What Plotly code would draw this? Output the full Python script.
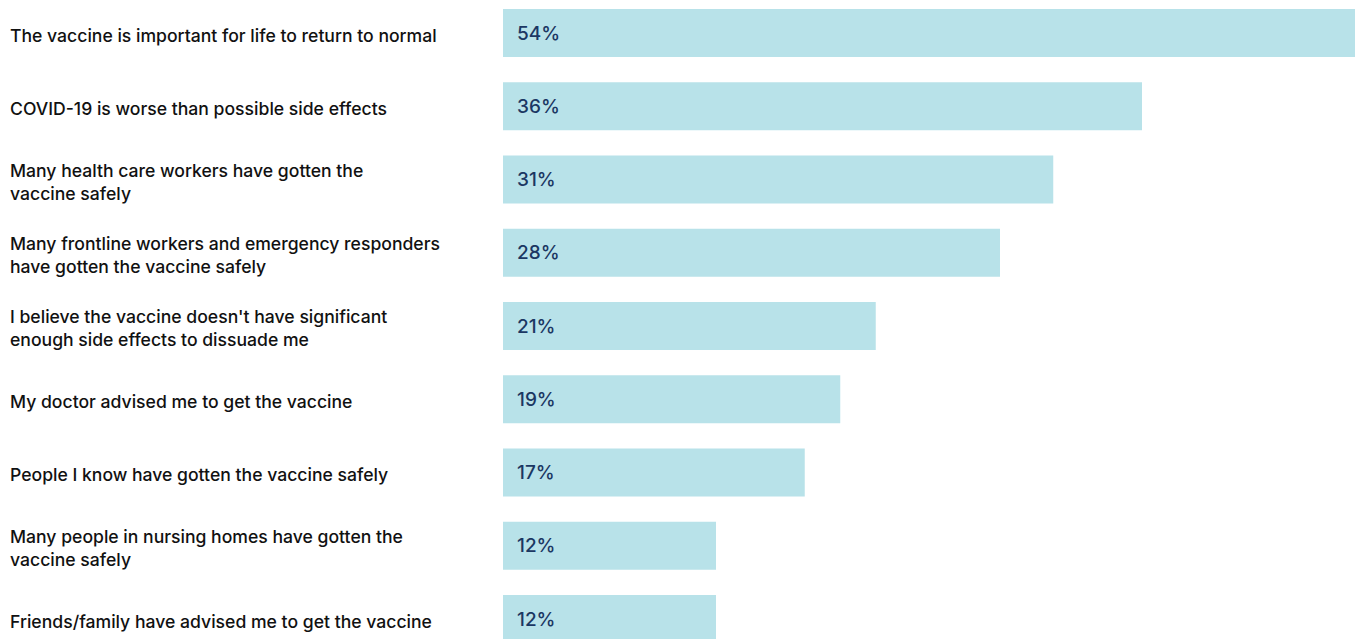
import plotly.graph_objects as go

categories = [
    "The vaccine is important for life to return to normal",
    "COVID-19 is worse than possible side effects",
    "Many health care workers have gotten the<br>vaccine safely",
    "Many frontline workers and emergency responders<br>have gotten the vaccine safely",
    "I believe the vaccine doesn't have significant<br>enough side effects to dissuade me",
    "My doctor advised me to get the vaccine",
    "People I know have gotten the vaccine safely",
    "Many people in nursing homes have gotten the<br>vaccine safely",
    "Friends/family have advised me to get the vaccine",
]
values = [54, 36, 31, 28, 21, 19, 17, 12, 12]
value_labels = ["54%", "36%", "31%", "28%", "21%", "19%", "17%", "12%", "12%"]

BAR = "#b8e2e9"
NAVY = "#1b3763"
W, H = 1355, 639
L = 503

fig = go.Figure(go.Bar(
    x=values, y=categories, orientation="h",
    marker=dict(color=BAR, line=dict(width=0)),
    width=0.655, hoverinfo="skip",
))

ann = []
for c, lab in zip(categories, value_labels):
    ann.append(dict(x=0, y=c, xref="x", yref="y", text=lab, showarrow=False,
                    xanchor="left", xshift=12,
                    font=dict(family="Inter, Liberation Sans, Arial", size=19,
                              weight=500, color=NAVY)))
    ann.append(dict(x=(8 - L) / (W - L), y=c, xref="paper", yref="y", text=c,
                    showarrow=False, xanchor="left", align="left", yshift=-2,
                    font=dict(family="Inter, Liberation Sans, Arial", size=17.6,
                              weight=500, color="#111111")))

fig.update_layout(
    width=W, height=H,
    margin=dict(l=L, r=0, t=0, b=0),
    paper_bgcolor="white", plot_bgcolor="white",
    showlegend=False,
    xaxis=dict(range=[0, 48], visible=False, fixedrange=True),
    yaxis=dict(type="category", categoryorder="array", categoryarray=categories,
               range=[8.273, -0.4505], visible=False, fixedrange=True),
    annotations=ann,
)

fig.write_html("out.html", config={"displayModeBar": False},
               post_script="document.body.style.margin='0';document.body.style.overflow='hidden';")
